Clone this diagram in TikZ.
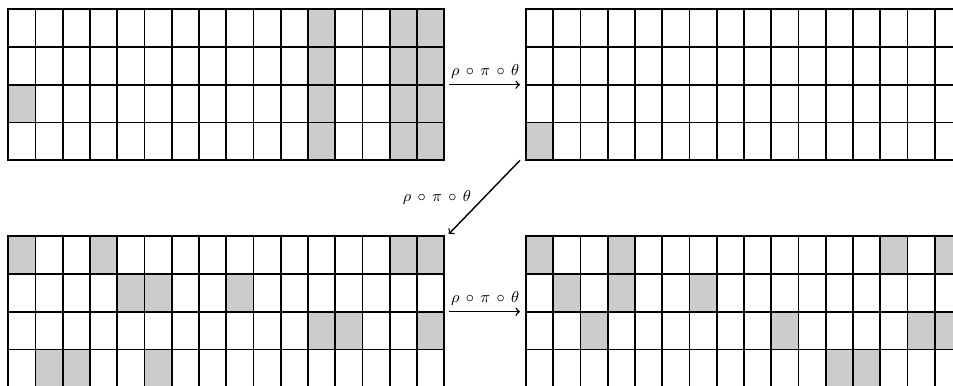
\documentclass[tikz,border=0pt]{standalone}
\usepackage{amsmath,amssymb}
\usepackage{tikz}
\usetikzlibrary{arrows,positioning}

\begin{document}
\begin{tikzpicture}[
    state/.style={rectangle, inner sep=0pt, outer sep=0pt, minimum width=8.72cm, minimum height=3.0264cm},
    cell/.style={fill=black!20},
    gridline/.style={line width=1pt, line cap=rect},
    arrow/.style={->, thick},
    lbl/.style={font=\small}
]
\clip (-0.166,0.18) rectangle (18.894,-7.52);
\node[state, anchor=north west] (round0) at (0,0) {};
\node[state, right=1.634cm of round0] (round1) {};
\node[state, below=1.514cm of round0] (round2) {};
\node[state, right=1.634cm of round2] (round3) {};

% shaded lanes, given as column/row
\foreach \s/\cells in {
    round0/{11/0,11/1,11/2,11/3,14/0,14/1,14/2,14/3,15/0,15/1,15/2,15/3,0/2},
    round1/{0/3},
    round2/{0/0,3/0,14/0,15/0,4/1,5/1,8/1,11/2,12/2,15/2,1/3,2/3,5/3},
    round3/{0/0,3/0,13/0,15/0,1/1,3/1,6/1,2/2,9/2,14/2,15/2,11/3,12/3}} {
  \begin{scope}[shift={(\s.north west)}, x=0.545cm, y=-0.7566cm]
    \foreach \c/\r in \cells
      \fill[cell] (\c,\r) rectangle ++(1,1);
    \foreach \i in {0,...,16}
      \draw[gridline] (\i,0) -- (\i,4);
    \foreach \j in {0,...,4}
      \draw[gridline] (0,\j) -- (16,\j);
  \end{scope}
}

\draw[arrow, shorten <=0.09cm, shorten >=0.12cm] (round0) -- node[lbl, above] {$\rho\,\circ\,\pi\,\circ\,\theta$} (round1);
\draw[arrow] ([xshift=-0.12cm]round1.south west) -- node[lbl, left=4pt] {$\rho\,\circ\,\pi\,\circ\,\theta$} ([xshift=0.09cm, yshift=0.04cm]round2.north east);
\draw[arrow, shorten <=0.09cm, shorten >=0.12cm] (round2) -- node[lbl, above] {$\rho\,\circ\,\pi\,\circ\,\theta$} (round3);
\end{tikzpicture}
\end{document}
